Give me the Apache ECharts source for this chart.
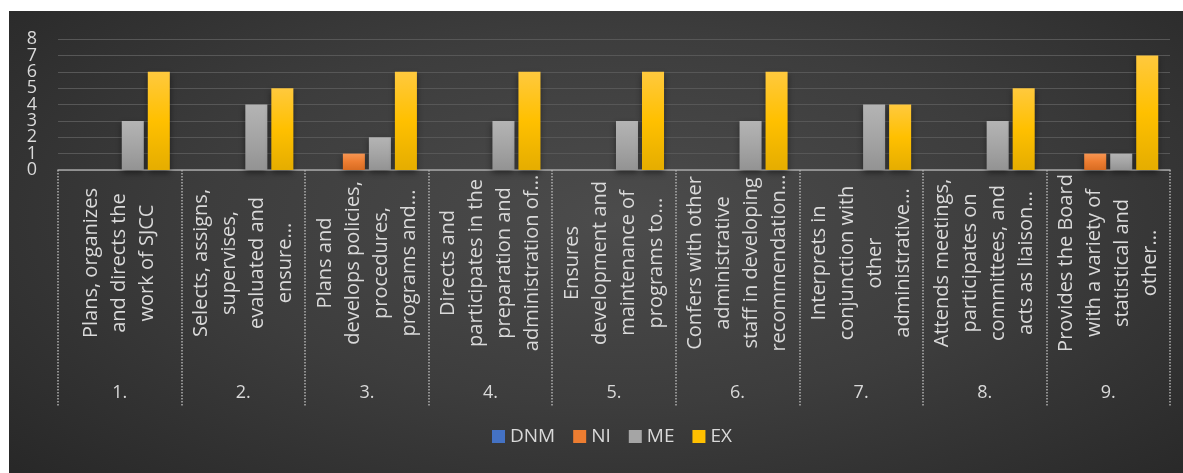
<!DOCTYPE html>
<html>
<head>
<meta charset="utf-8">
<script src="https://cdn.jsdelivr.net/npm/echarts@6/dist/echarts.min.js"></script>
<style>
html, body { margin: 0; padding: 0; background: #fff; }
#chart {
  position: absolute; left: 9px; top: 11px; width: 1174px; height: 462px;
  background: radial-gradient(ellipse 70% 80% at 52% 45%, #4c4c4c 0%, #3d3d3d 50%, #282828 100%);
}
</style>
</head>
<body>
<div id="chart"></div>
<script>
// item descriptions (already cut the way the source chart shows them)
var itemText = [
  'Plans, organizes\nand directs the\nwork of SJCC',
  'Selects, assigns,\nsupervises,\nevaluated and\nensure...',
  'Plans and\ndevelops policies,\nprocedures,\nprograms and...',
  'Directs and\nparticipates in the\npreparation and\nadministration of...',
  'Ensures\ndevelopment and\nmaintenance of\nprograms to...',
  'Confers with other\nadministrative\nstaff in developing\nrecommendation...',
  'Interprets in\nconjunction with\nother\nadministrative...',
  'Attends meetings,\nparticipates on\ncommittees, and\nacts as liaison...',
  'Provides the Board\nwith a variety of\nstatistical and\nother...'
]
var itemNo = ['1.', '2.', '3.', '4.', '5.', '6.', '7.', '8.', '9.']

var seriesNames = ['DNM', 'NI', 'ME', 'EX']
var dnm = [0, 0, 0, 0, 0, 0, 0, 0, 0]
var ni  = [0, 0, 1, 0, 0, 0, 0, 0, 1]
var me  = [3, 4, 2, 3, 3, 3, 4, 3, 1]
var ex  = [6, 5, 6, 6, 6, 6, 4, 5, 7]

var yTicks = [0, 1, 2, 3, 4, 5, 6, 7, 8]

function grad(top, mid, bottom) {
  return new echarts.graphic.LinearGradient(0, 0, 0, 1, [
    { offset: 0, color: top },
    { offset: 0.5, color: mid },
    { offset: 1, color: bottom }
  ])
}

var colors = [
  grad('#5a87d6', '#4472c4', '#3a63ad'),
  grad('#f79552', '#ed7d31', '#d86c22'),
  grad('#b4b4b4', '#a5a5a5', '#939393'),
  grad('#ffc93e', '#ffc000', '#e5ad00')
]
var legendColors = ['#4472c4', '#ed7d31', '#a5a5a5', '#ffc000']

var font = '"Open Sans", "Noto Sans", sans-serif'
var textColor = '#d9d9d9'

var myChart = echarts.init(document.getElementById('chart'))

var seriesData = [dnm, ni, me, ex]
var series = []
for (var i = 0; i < seriesNames.length; i++) {
  series.push({
    name: seriesNames[i],
    type: 'bar',
    data: seriesData[i],
    barGap: '18%',
    barCategoryGap: '19%',
    itemStyle: {
      color: colors[i],
      shadowColor: 'rgba(0,0,0,0.45)',
      shadowBlur: 6,
      shadowOffsetY: 3
    }
  })
}

// labels 0..8 sit closer than their height, so even / odd go on two stacked axes
function yAxisDef(odd, showGrid) {
  return {
    type: 'value',
    position: 'left',
    min: yTicks[0],
    max: yTicks[yTicks.length - 1],
    interval: 1,
    axisLine: { show: false },
    axisTick: { show: false },
    splitLine: { show: showGrid, lineStyle: { color: '#575757', width: 1 } },
    axisLabel: {
      margin: 21,
      fontSize: 18,
      fontFamily: font,
      color: textColor,
      showMinLabel: true,
      showMaxLabel: true,
      formatter: function (v) { return (v % 2 === 1) === odd ? String(v) : '' }
    }
  }
}

var option = {
  animation: false,
  backgroundColor: 'transparent',
  grid: { left: 49, right: 13, top: 28, bottom: 303, containLabel: false },
  legend: {
    bottom: 22,
    left: 478,
    itemWidth: 13,
    itemHeight: 13,
    itemGap: 18,
    icon: 'rect',
    textStyle: { color: textColor, fontSize: 19, fontFamily: font },
    data: seriesNames.map(function (n, i) {
      return { name: n, itemStyle: { color: legendColors[i] } }
    })
  },
  xAxis: [
    {
      type: 'category',
      data: itemText,
      axisLine: { show: true, lineStyle: { color: '#a6a6a6', width: 1.5 } },
      axisTick: {
        show: true, interval: 0, length: 237,
        lineStyle: { color: '#b0b0b0', width: 1.5, type: 'dotted' }
      },
      axisLabel: {
        interval: 0,
        rotate: 90,
        align: 'center',
        verticalAlign: 'middle',
        margin: 93,
        lineHeight: 28,
        fontSize: 20,
        fontFamily: font,
        color: textColor
      }
    },
    {
      type: 'category',
      data: itemNo,
      position: 'bottom',
      axisLine: { show: false },
      axisTick: { show: false },
      axisLabel: {
        interval: 0,
        margin: 223,
        verticalAlign: 'middle',
        fontSize: 18,
        fontFamily: font,
        color: textColor
      }
    }
  ],
  yAxis: [yAxisDef(false, true), yAxisDef(true, false)],
  series: series
}

myChart.setOption(option)
</script>
</body>
</html>
